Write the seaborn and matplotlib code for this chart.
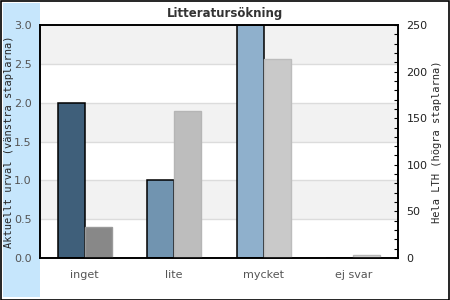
import numpy as np
import pandas as pd
import matplotlib
matplotlib.use("Agg")
import matplotlib.pyplot as plt
from matplotlib.patches import Rectangle
import seaborn as sns

categories = ["inget", "lite", "mycket", "ej svar"]
left_values = [2.0, 1.0, 3.0, 0.0]      # Aktuellt urval
right_values = [33, 158, 214, 3]        # Hela LTH
left_colors = ["#3f5f7a", "#7194b0", "#8fb0cc", "#a8c4dc"]
right_colors = ["#888888", "#bdbdbd", "#c9c9c9", "#d2d2d2"]
right_edges = ["#9a9a9a", "#b5b5b5", "#bcbcbc", "#b8b8b8"]

pos = np.arange(len(categories))
df_left = pd.DataFrame({"x": pos - 0.15, "v": left_values, "cat": categories})
df_right = pd.DataFrame({"x": pos + 0.15, "v": right_values, "cat": categories})

sns.set_style("white")
plt.rcParams["font.family"] = ["DejaVu Sans"]

fig = plt.figure(figsize=(4.5, 3.0), dpi=100)
fig.patch.set_facecolor("white")
fig.patches.append(Rectangle((3/450, 3/300), 37/450, 294/300, transform=fig.transFigure,
                             facecolor="#c6e6fc", edgecolor="none", zorder=-5))
fig.patches.append(Rectangle((0.5/450, 0.5/300), 448/450, 299/300, transform=fig.transFigure,
                             facecolor="none", edgecolor="black", linewidth=1.2, zorder=5))

ax1 = fig.add_axes([40/450, 1 - 258/300, 358/450, 233/300])
ax1.set_facecolor("white")
for lo in [0.5, 1.5, 2.5]:
    ax1.axhspan(lo, lo + 0.5, color="#f2f2f2", zorder=0, lw=0)
for y in np.arange(0.5, 3.0, 0.5):
    ax1.axhline(y, color="#dcdcdc", lw=1, zorder=0.5)

sns.barplot(data=df_left, x="x", y="v", hue="cat", palette=left_colors, native_scale=True,
            width=0.3, saturation=1, edgecolor="black", linewidth=1.1, legend=False, ax=ax1, zorder=2)

ax2 = ax1.twinx()
sns.barplot(data=df_right, x="x", y="v", hue="cat", palette=right_colors, native_scale=True,
            width=0.3, saturation=1, linewidth=1.0, legend=False, ax=ax2, zorder=2)
for p, ec in zip(ax2.patches, right_edges):
    p.set_edgecolor(ec)

for ax in (ax1, ax2):
    ax.set_xlim(-0.5, 3.5)
ax1.set_ylim(0, 3.0)
ax2.set_ylim(0, 250)

ax1.set_xticks(pos)
ax1.set_xticklabels(categories, fontsize=8, color="#555555")
ax1.tick_params(axis="x", length=0, pad=9)
ax1.set_yticks(np.arange(0, 3.01, 0.5))
ax1.set_yticklabels([f"{v:.1f}" for v in np.arange(0, 3.01, 0.5)], fontsize=8, color="#555555")
ax1.tick_params(axis="y", length=0, pad=6, left=False, labelleft=True)
ax1.set_xlabel("")
ax1.set_ylabel("Aktuellt urval (vänstra staplarna)", family="DejaVu Sans Mono", fontsize=7.5)
ax1.yaxis.set_label_coords(-26/358, 0.5)

ax2.set_yticks(np.arange(0, 251, 50))
ax2.set_yticks(np.arange(0, 251, 10), minor=True)
ax2.set_yticklabels([str(v) for v in range(0, 251, 50)], fontsize=8, color="#222222")
ax2.tick_params(axis="y", which="both", direction="in", length=3, width=0.8, pad=6, color="black")
ax2.set_xlabel("")
ax2.set_ylabel("Hela LTH (högra staplarna)", family="DejaVu Sans Mono", fontsize=7.5)
ax2.yaxis.set_label_coords(1 + 34/358, 0.5)

for ax in (ax1, ax2):
    for s in ax.spines.values():
        s.set_color("black")
        s.set_linewidth(1.2)
        s.set_visible(True)

fig.text(225/450, 1 - 13/300, "Litteratursökning", ha="center", va="center",
         fontsize=8.5, fontweight="bold", color="#333333")

fig.savefig("out.png", dpi=100)
